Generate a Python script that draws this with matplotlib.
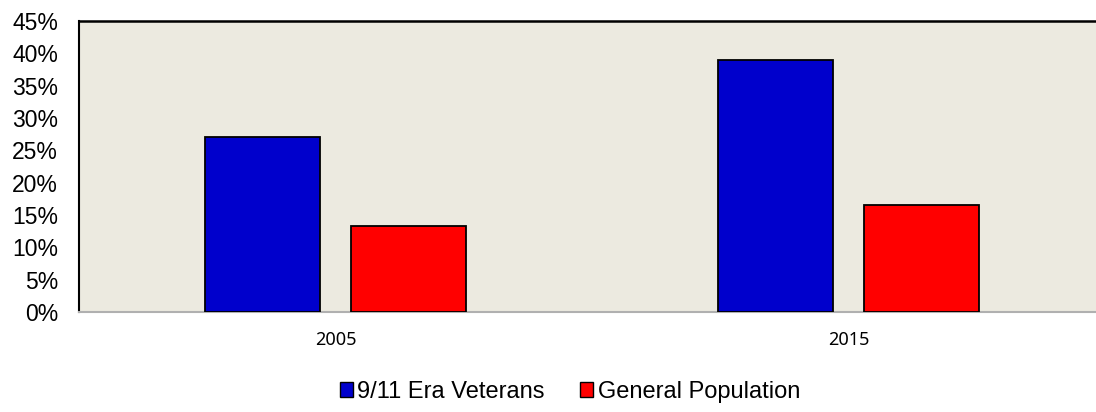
import numpy as np
import matplotlib.pyplot as plt
from matplotlib.patches import Patch

# datos
years = ['2005', '2015']
veterans = [27.0, 39.0]
general_pop = [13.3, 16.5]
yticks = [0, 5, 10, 15, 20, 25, 30, 35, 40, 45]

plt.rcParams['font.family'] = ['Liberation Sans', 'DejaVu Sans']

fig = plt.figure(figsize=(10.96, 4.12), dpi=100)
ax = fig.add_axes([79 / 1096, 1 - 312 / 412, 1026 / 1096, 291 / 412])
ax.set_facecolor('#ECEAE0')

x = np.arange(len(years))
w = 0.224
ax.bar(x - 0.142, veterans, w, color='#0000CC', edgecolor='black', linewidth=1.3, zorder=3)
ax.bar(x + 0.142, general_pop, w, color='#FF0000', edgecolor='black', linewidth=1.3, zorder=3)

ax.set_xlim(-0.5, 1.5)
ax.set_ylim(0, 45)
ax.set_yticks(yticks)
ax.set_yticklabels([f'{t}%' for t in yticks], fontsize=16.5)
ax.set_xticks(x)
ax.set_xticklabels(years, fontsize=13, family=['Noto Sans', 'DejaVu Sans'])
ax.tick_params(axis='y', length=0, pad=15)
ax.tick_params(axis='x', length=0, pad=14)

ax.spines['left'].set_color('black')
ax.spines['left'].set_linewidth(1.5)
ax.spines['top'].set_color('black')
ax.spines['top'].set_linewidth(1.8)
ax.spines['right'].set_visible(False)
ax.spines['bottom'].set_color('#B0B0B0')
ax.spines['bottom'].set_linewidth(1.5)

handles = [Patch(facecolor='#0000CC', edgecolor='black', label='9/11 Era Veterans'),
           Patch(facecolor='#FF0000', edgecolor='black', label='General Population')]
fig.legend(handles=handles, loc='center', bbox_to_anchor=(570 / 1096, 1 - 392 / 412),
           ncol=2, frameon=False, fontsize=17, handlelength=0.55, handleheight=0.6,
           handletextpad=0.2, columnspacing=1.5, borderpad=0)

fig.savefig('out.png', dpi=100)
